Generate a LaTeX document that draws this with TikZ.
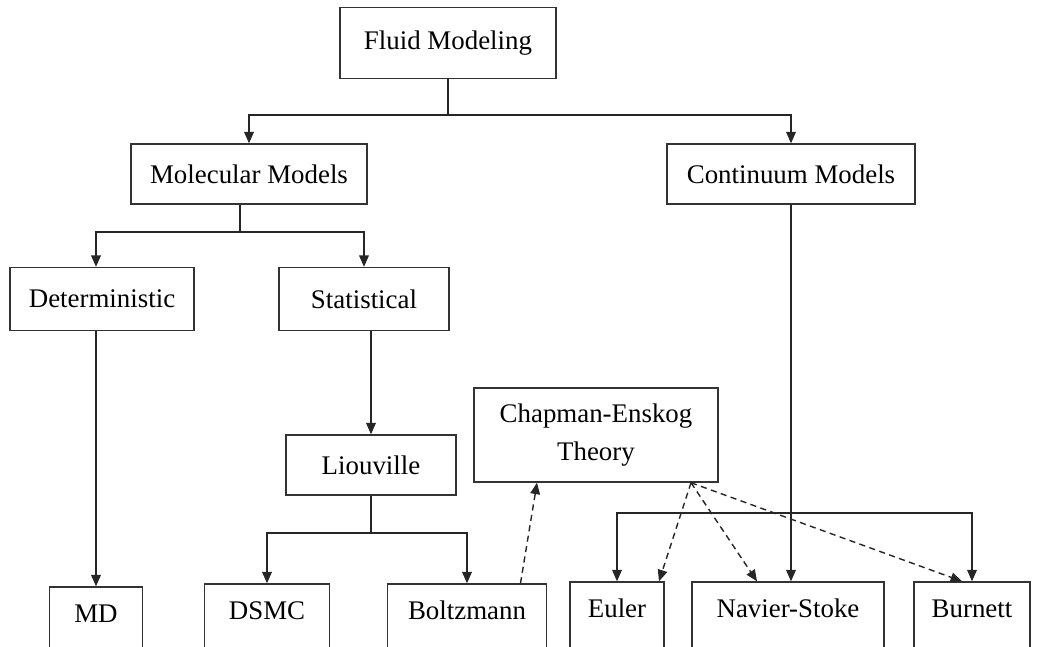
\documentclass[tikz,border=0pt]{standalone}
\usepackage{fontspec}
\setmainfont{Liberation Serif}
\usetikzlibrary{arrows.meta,positioning}

\begin{document}
\begin{tikzpicture}[x=0.02cm,y=-0.02cm,>={Triangle[length=6.5pt,width=5.5pt]},
  box/.style={draw=black!80,line width=0.8pt,inner sep=0pt,font=\fontsize{15.3}{22}\selectfont},
  leaf/.style={box,anchor=base,text height=0.5cm,text depth=1cm,inner ysep=0.2cm},
  line/.style={black!85,line width=0.8pt},
  link/.style={line,->},
  hint/.style={line,->,dash pattern=on 3.5pt off 2.5pt}]
\useasboundingbox (0,0) rectangle (1037,646);
\clip (0,0) rectangle (1037,646);

% upper levels
\node[box,minimum width=4.32cm,minimum height=1.42cm] (fluid) at (448,43) {Fluid Modeling};
\node[box,minimum width=4.72cm,minimum height=1.2cm] (molec) at (249,174) {Molecular Models};
\node[box,minimum width=4.96cm,minimum height=1.2cm] (cont) at (791,174) {Continuum Models};
\node[box,minimum width=3.68cm,minimum height=1.26cm] (determ) at (102,299) {Deterministic};
\node[box,minimum width=3.4cm,minimum height=1.26cm] (stat) at (364,299) {Statistical};
\node[box,minimum width=3.4cm,minimum height=1.2cm] (liou) at (371,465) {Liouville};
\node[box,minimum width=4.88cm,minimum height=1.88cm,align=center] (chap) at (596,435) {Chapman-Enskog\\Theory};

% bottom row (cut off by the page edge)
\node[leaf,minimum width=1.86cm] (md) at (96,622) {MD};
\node[leaf,minimum width=2.5cm] (dsmc) at (267,619) {DSMC};
\node[leaf,minimum width=3.18cm] (boltz) at (467,619) {Boltzmann};
\node[leaf,minimum width=1.88cm] (euler) at (617,617) {Euler};
\node[leaf,minimum width=3.84cm] (navier) at (788,617) {Navier-Stoke};
\node[leaf,minimum width=2.32cm] (burnett) at (972,617) {Burnett};

% fluid modeling split
\coordinate (top) at (448,115);
\draw[line] (fluid.south) -- (top);
\draw[link] (top) -| (molec.north);
\draw[link] (top) -| (cont.north);

% molecular branch
\coordinate (mol) at (240,232);
\draw[line] (molec.south -| mol) -- (mol);
\draw[link] (mol) -| (determ.north -| md.north);
\draw[link] (mol) -| (stat.north);
\draw[link] (determ.south -| md.north) -- (md.north);
\draw[link] (stat.south -| liou.north) -- (liou.north);

\coordinate (liv) at (371,533);
\draw[line] (liou.south) -- (liv);
\draw[link] (liv) -| (dsmc.north);
\draw[link] (liv) -| (boltz.north);

% continuum branch
\draw[link] (cont.south) -- (cont.south |- navier.north);
\coordinate (cnt) at (789,513);
\draw[link] (cnt) -| (euler.north);
\draw[link] (cnt) -| (burnett.north);

% Chapman-Enskog links
\draw[hint] ([xshift=1.07cm]boltz.north) -- ([xshift=-1.18cm]chap.south);
\coordinate (ce) at ([xshift=1.9cm]chap.south);
\draw[hint] (ce) -- ([xshift=0.84cm]euler.north);
\draw[hint] (ce) -- ([xshift=-0.62cm]navier.north);
\draw[hint] (ce) -- ([xshift=-0.2cm]burnett.north);

\end{tikzpicture}
\end{document}
